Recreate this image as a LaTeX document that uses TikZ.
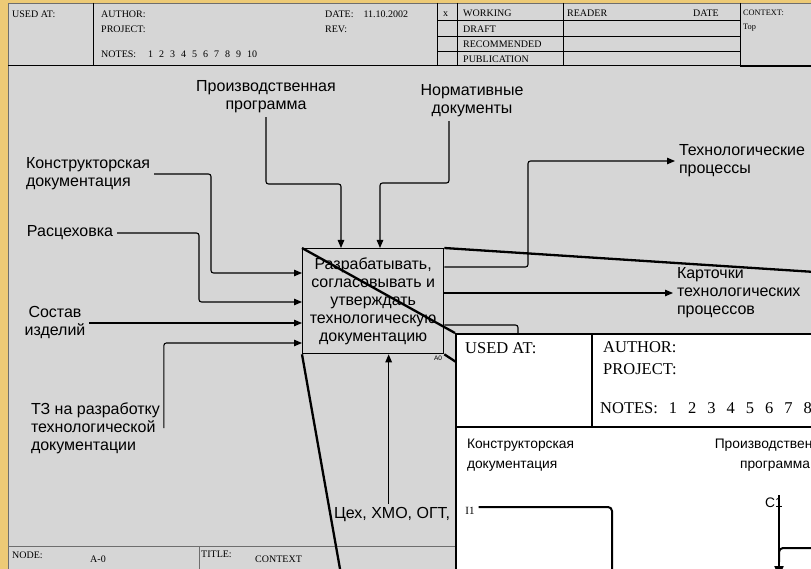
\documentclass[tikz,border=0pt]{standalone}
\usepackage{fontspec}
\setmainfont{Liberation Serif}
\setsansfont{Liberation Sans}
\usetikzlibrary{arrows.meta,positioning}
\definecolor{cGold}{HTML}{EDCA76}
\definecolor{cForm}{HTML}{D6D6D6}
\definecolor{cRule}{HTML}{6E6E6E}
\newcommand{\ngap}{\hspace{6pt}}
\newcommand{\ingap}{\hspace{11pt}}

\begin{document}
\begin{tikzpicture}[x=1pt, y=-1pt,
    font=\sffamily,
    hdr/.style={font=\rmfamily\fontsize{10}{11}\selectfont, anchor=base west, inner sep=0pt},
    tiny/.style={font=\rmfamily\fontsize{8.3}{9}\selectfont, anchor=base west, inner sep=0pt},
    lbl/.style={font=\sffamily\fontsize{16}{18}\selectfont, inner sep=0pt, outer sep=4pt},
    fn/.style={draw, line width=1.3pt, fill=cForm, align=center, inner sep=0pt,
      minimum width=141pt, minimum height=105pt, font=\sffamily\fontsize{16}{18}\selectfont},
    arr/.style={-{Triangle[length=8pt,width=6.5pt]}, line width=1.1pt, rounded corners=2.5pt},
    ln/.style={line width=1.1pt, rounded corners=2.5pt},
    zoomln/.style={line width=2.3pt},
    rule/.style={line width=0.8pt},
    inset/.style={draw, line width=2pt, fill=white, inner sep=0pt, anchor=north west,
      minimum width=420pt, minimum height=300pt},
    ihdr/.style={font=\rmfamily\fontsize{16.5}{18}\selectfont, anchor=base west, inner sep=0pt},
    ilbl/.style={font=\sffamily\fontsize{13.8}{20}\selectfont, inner sep=0pt, outer sep=3pt},
    iarr/.style={-{Triangle[length=11pt,width=9pt]}, line width=2pt, rounded corners=4pt},
    iln/.style={line width=2pt, rounded corners=4pt},
  ]
  \useasboundingbox (0,0) rectangle (811,569);
  \clip (0,0) rectangle (811,569);

  % --- sheet ---
  \fill[cGold] (0,0) rectangle (811,569);
  \fill[cForm] (8,3) rectangle (830,590);
  \draw[rule, cRule] (8,590) -- (8,3) -- (830,3);

  % --- header frame ---
  \draw[rule] (8,65) -- (811,65);
  \draw[rule] (93,3) -- (93,65);
  \draw[rule] (437,3) -- (437,65);
  \draw[rule] (457,3) -- (457,65);
  \draw[rule] (563,3) -- (563,65);
  \draw[rule] (740,3) -- (740,66) -- (811,66);
  \draw[rule] (437,20) -- (740,20);
  \draw[rule] (437,36) -- (740,36);
  \draw[rule] (437,51) -- (740,51);

  \node[hdr] (usedat) at (12,18) {USED AT:};
  \node[hdr] (author) at (101,18) {AUTHOR:};
  \node[hdr] (project) at (101,33) {PROJECT:};
  \node[hdr] (notes) at (101,58)
    {NOTES:\hspace{12pt}1\ngap 2\ngap 3\ngap 4\ngap 5\ngap 6\ngap 7\ngap 8\ngap 9\ngap 10};
  \node[hdr] (date) at (325,18) {DATE:\hspace{10pt}11.10.2002};
  \node[hdr] (rev) at (325,33) {REV:};
  \node[hdr] (mark) at (443,17) {x};
  \node[hdr] (working) at (463,17) {WORKING};
  \node[hdr] (draft) at (463,33) {DRAFT};
  \node[hdr] (recom) at (463,48) {RECOMMENDED};
  \node[hdr] (public) at (463,63) {PUBLICATION};
  \node[hdr] (reader) at (567,17) {READER};
  \node[hdr] (rdate) at (693,17) {DATE};
  \node[tiny] (context) at (743,16) {CONTEXT:};
  \node[tiny] (top) at (743,30) {Top};

  % --- footer ---
  \draw[rule, cRule] (8,546) -- (811,546);
  \draw[rule, cRule] (199,546) -- (199,580);
  \node[hdr] (nodelbl) at (12,558) {NODE:};
  \node[hdr] (nodeval) at (90,562) {A-0};
  \node[hdr] (titlelbl) at (201,557) {TITLE:};
  \node[hdr] (titleval) at (255,562) {CONTEXT};

  % --- function block ---
  \node[fn, anchor=north west] (box) at (302,248)
    {Разрабатывать,\\согласовывать и\\утверждать\\технологическую\\документацию};
  \node[font=\sffamily\fontsize{6.5}{7}\selectfont, inner sep=1pt, anchor=north east]
    (boxnum) at ([xshift=-1pt]box.south east) {A0};

  % --- labels ---
  \node[lbl, align=center] (prog) at (266,97) {Производственная\\программа};
  \node[lbl, align=center] (norm) at (472,101) {Нормативные\\документы};
  \node[lbl, align=left, anchor=west] (konstr) at (22,174) {Конструкторская\\документация};
  \node[lbl, anchor=west] (rasc) at (23,233) {Расцеховка};
  \node[lbl, align=center] (sostav) at (55,323) {Состав\\изделий};
  \node[lbl, align=left, anchor=west] (tz) at (27,428)
    {ТЗ на разработку\\технологической\\документации};
  \node[lbl, anchor=west] (tsekh) at (330,515) {Цех, ХМО, ОГТ,};
  \node[lbl, align=left, anchor=west] (tech) at (675,161) {Технологические\\процессы};
  \node[lbl, align=left, anchor=west] (kart) at (673,293)
    {Карточки\\технологических\\процессов};

  % --- controls ---
  \draw[arr] (prog.south) -- (266,184) -| ([xshift=39pt]box.north west);
  \draw[arr] ([xshift=-23pt]norm.south) -- (449,183) -| ([xshift=78pt]box.north west);

  % --- inputs ---
  \draw[arr] (konstr.east) -| (211,273) -- ([yshift=-25pt]box.north west);
  \draw[arr] (rasc.east) -| (199,302) -- ([yshift=-54pt]box.north west);
  \draw[arr] (sostav.east) -- (sostav.east -| box.west);
  \draw[arr] (tz.east) |- ([yshift=-95pt]box.north west);

  % --- mechanism ---
  \coordinate (mech) at ([xshift=15.5pt]box.south);
  \draw[arr] (tsekh.north -| mech) -- (mech);

  % --- outputs ---
  \draw[arr] ([yshift=-19pt]box.north east) -- (528,267) |- (tech.west);
  \draw[arr] ([yshift=-45pt]box.north east) -- (kart.west);
  \draw[ln] ([yshift=-77pt]box.north east) -| (518,345);

  % --- zoom lines ---
  \coordinate (insTR) at (900,277.5);
  \coordinate (insBL) at (345.5,600);
  \coordinate (insBR) at (485,381);
  \draw[zoomln] (box.north west) -- (455,333);
  \draw[zoomln] (box.north east) -- (insTR);
  \draw[zoomln] (box.south west) -- (insBL);
  \draw[zoomln] (box.south east) -- (insBR);

  % --- decomposition inset ---
  \node[inset] (inset) at (455,333) {};
  \draw[iln] (592,333) -- (592,427);
  \draw[iln] (455,427) -- (880,427);
  \node[ihdr] (iused) at (465,353) {USED AT:};
  \node[ihdr] (iauthor) at (603,352) {AUTHOR:};
  \node[ihdr] (iproject) at (603,374) {PROJECT:};
  \node[ihdr] (inotes) at (600,413)
    {NOTES:\ingap 1\ingap 2\ingap 3\ingap 4\ingap 5\ingap 6\ingap 7\ingap 8};
  \node[ilbl, align=left, anchor=west] (ikonstr) at (464,455) {Конструкторская\\документация};
  \node[ilbl, align=center] (iprog) at (775,455) {Производственная\\программа};
  \node[ilbl] (ic1) at (774,503) {C1};
  \node[font=\rmfamily\fontsize{11}{12}\selectfont, inner sep=0pt, outer sep=4pt] (ii1) at (470,511) {I1};
  \coordinate (c1end) at (779,577);
  \draw[iarr] (ic1.north -| c1end) -- (c1end);
  \draw[iln] (830,548) -| (779,562);
  \draw[iln] ([yshift=4pt]ii1.east) -| (612,600);
\end{tikzpicture}
\end{document}
